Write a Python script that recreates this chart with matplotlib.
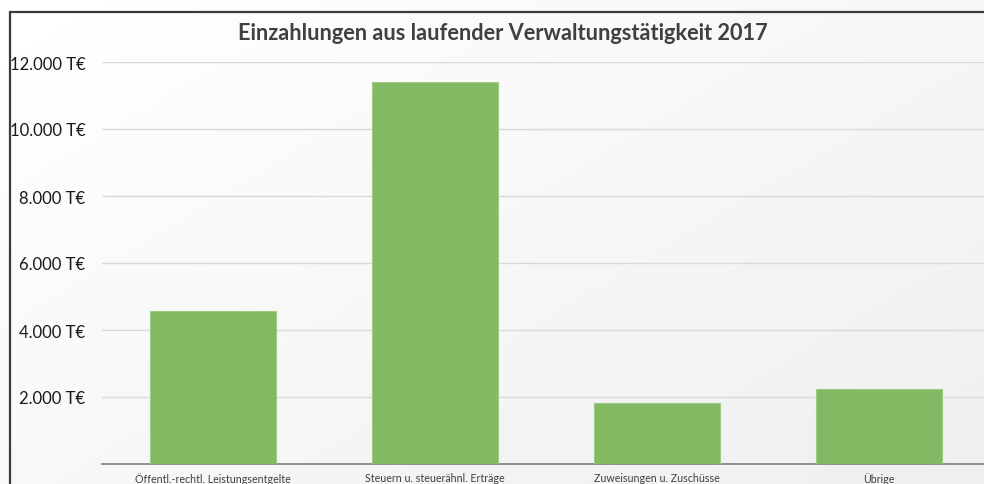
import numpy as np
import matplotlib
matplotlib.use("Agg")
import matplotlib.pyplot as plt
from matplotlib.patches import Rectangle
from matplotlib.ticker import FuncFormatter

# values in T€
categories = ["Öffentl.-rechtl. Leistungsentgelte", "Steuern u. steuerähnl. Erträge",
              "Zuweisungen u. Zuschüsse", "Übrige"]
values = [4570, 11400, 1820, 2250]
yticks = [2000, 4000, 6000, 8000, 10000, 12000]

title = "Einzahlungen aus laufender Verwaltungstätigkeit 2017"

plt.rcParams['font.family'] = ['Lato', 'DejaVu Sans']

W, H = 984, 485
fig = plt.figure(figsize=(W / 100, H / 100), dpi=100)

# soft background gradient (white top-left, light grey towards right)
bg = fig.add_axes([0, 0, 1, 1], zorder=-10)
gx, gy = np.meshgrid(np.linspace(0, 1, 200), np.linspace(0, 1, 100))
grad = np.clip(0.55 * gx + 0.45 * gy, 0, 1)
bg.imshow(1.0 - 0.065 * grad, cmap="gray", vmin=0, vmax=1, aspect="auto",
          extent=[0, 1, 0, 1], origin="upper")
bg.set_axis_off()

# chart frame (cut off at right and bottom)
fig.patches.append(Rectangle((10 / W, -0.1), 1.2, (H - 13) / H + 0.1,
                             transform=fig.transFigure, fill=False,
                             edgecolor="#3a3a3a", lw=1.6, zorder=5))

ax = fig.add_axes([102 / W, 20 / H, 888 / W, 402 / H])
ax.patch.set_alpha(0)

x = np.arange(len(categories))
ax.bar(x, values, width=0.568, color="#84b963", edgecolor="#9fcc84", lw=0.8, zorder=3)

ax.set_xlim(-0.5, len(categories) - 0.5)
ax.set_ylim(0, 12000)
ax.set_yticks(yticks)
ax.yaxis.set_major_formatter(FuncFormatter(lambda v, p: f"{int(v):,} T€".replace(",", ".")))
ax.set_xticks(x)
ax.set_xticklabels(categories, fontsize=7.7, color="#404040")
ax.tick_params(axis="y", length=0, pad=12, labelsize=12, labelcolor="#1a1a1a")
ax.tick_params(axis="x", length=0, pad=6)
ax.grid(axis="y", color="#d9d9d9", lw=1, zorder=0)

for s in ["top", "right", "left"]:
    ax.spines[s].set_visible(False)
ax.spines["bottom"].set_color("#7f7f7f")
ax.spines["bottom"].set_linewidth(1.2)

fig.text(503 / W, 1 - 33 / H, title, ha="center", va="center",
         fontsize=15.7, fontweight="bold", color="#404040")

fig.savefig("out.png", dpi=100)
